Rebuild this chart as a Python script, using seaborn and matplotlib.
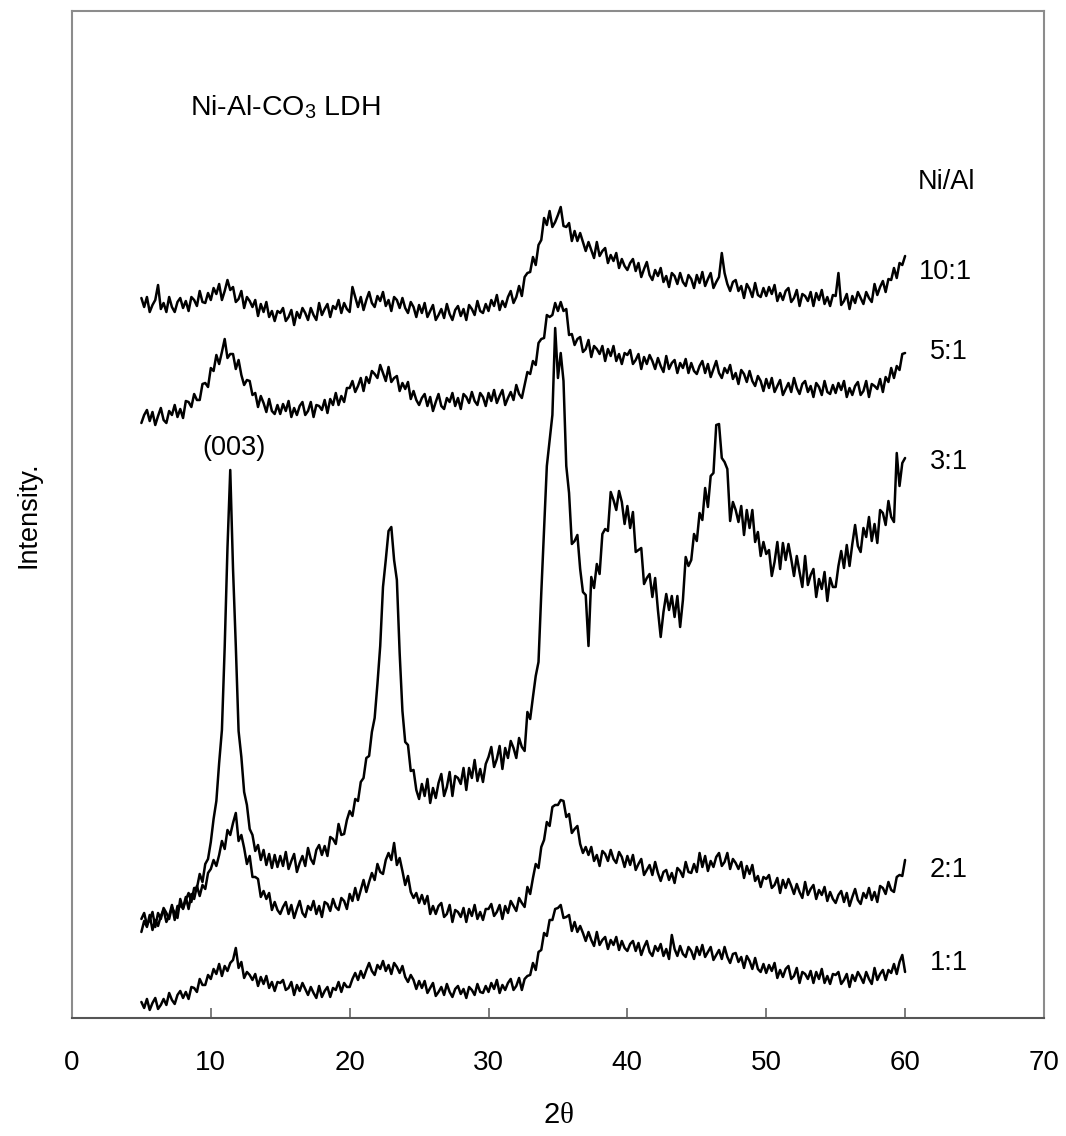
import numpy as np
import pandas as pd
import matplotlib
matplotlib.use("Agg")
from matplotlib import pyplot as plt
import seaborn as sns

# XRD scans of Ni-Al-CO3 LDH, 5-60 deg 2theta, 0.2 deg step (intensity in a.u., stacked)
two_theta = np.linspace(5.0, 60.0, 276)

ratio_1_1 = [
    16, 10, 19, 8, 15, 20, 9, 13, 19, 13, 25, 18, 14, 23, 27, 20, 26, 19, 31, 30, 26, 39, 33, 33, 43,
    39, 49, 44, 54, 42, 52, 47, 55, 58, 70, 50, 56, 40, 46, 43, 38, 44, 32, 41, 34, 42, 30, 36, 27, 36,
    35, 38, 28, 30, 36, 23, 33, 27, 35, 29, 23, 31, 25, 20, 32, 21, 27, 31, 21, 30, 28, 36, 26, 35, 31,
    31, 39, 45, 38, 47, 40, 48, 55, 47, 43, 53, 49, 57, 47, 53, 44, 55, 51, 45, 52, 41, 36, 43, 38, 29,
    37, 30, 37, 25, 30, 35, 22, 26, 31, 23, 34, 26, 21, 29, 32, 24, 29, 20, 31, 28, 23, 34, 26, 25, 32,
    26, 35, 29, 38, 25, 33, 28, 35, 39, 28, 32, 40, 28, 39, 42, 43, 55, 48, 66, 68, 85, 82, 98, 98, 109,
    110, 113, 100, 101, 103, 87, 96, 86, 92, 85, 77, 86, 78, 72, 86, 73, 78, 81, 69, 78, 73, 81, 68, 77, 70,
    67, 74, 77, 67, 75, 63, 71, 77, 66, 62, 72, 67, 74, 62, 69, 59, 83, 69, 62, 72, 64, 61, 71, 67, 59,
    71, 63, 73, 61, 66, 71, 58, 63, 68, 59, 71, 61, 55, 64, 65, 56, 61, 50, 62, 57, 49, 60, 49, 46, 54,
    45, 53, 47, 55, 40, 48, 41, 49, 52, 39, 42, 50, 35, 46, 44, 39, 47, 35, 46, 39, 49, 35, 42, 34, 44,
    43, 46, 34, 38, 44, 31, 43, 37, 46, 41, 35, 46, 39, 34, 50, 38, 44, 48, 38, 48, 45, 54, 44, 56, 63,
    46]

ratio_2_1 = [
    86, 97, 91, 103, 88, 98, 92, 102, 108, 96, 102, 113, 98, 112, 112, 110, 121, 109, 124, 119, 132, 122, 133, 129, 145,
    149, 158, 152, 163, 177, 169, 188, 183, 195, 205, 177, 183, 170, 154, 162, 141, 141, 139, 121, 127, 119, 125, 108, 116, 108,
    104, 111, 116, 104, 113, 100, 109, 117, 105, 101, 112, 108, 117, 104, 112, 101, 116, 114, 107, 119, 111, 108, 120, 117, 109,
    124, 117, 130, 118, 128, 138, 126, 136, 145, 138, 154, 146, 144, 158, 165, 158, 175, 153, 160, 147, 133, 142, 126, 120, 125,
    115, 123, 114, 122, 104, 112, 104, 112, 115, 101, 104, 113, 96, 108, 106, 101, 110, 96, 109, 102, 113, 99, 106, 98, 109,
    109, 114, 102, 106, 113, 99, 112, 105, 117, 112, 107, 120, 115, 111, 131, 124, 140, 154, 150, 171, 178, 196, 192, 211, 213,
    213, 218, 217, 201, 204, 185, 189, 192, 174, 165, 171, 163, 171, 157, 163, 152, 167, 164, 157, 168, 159, 155, 166, 161, 151,
    162, 153, 163, 148, 154, 159, 143, 148, 153, 143, 156, 145, 137, 146, 148, 138, 145, 135, 150, 147, 141, 156, 146, 145, 154,
    146, 165, 151, 162, 147, 157, 151, 161, 165, 152, 156, 165, 149, 159, 155, 149, 156, 140, 152, 144, 153, 137, 142, 131, 141,
    139, 143, 130, 133, 140, 125, 138, 130, 139, 132, 124, 134, 126, 120, 136, 123, 129, 133, 119, 128, 123, 131, 117, 126, 119,
    115, 123, 127, 116, 125, 112, 121, 129, 118, 114, 125, 120, 130, 118, 126, 116, 132, 130, 124, 136, 128, 126, 141, 143, 142,
    158]

ratio_3_1 = [
    99, 105, 93, 98, 106, 91, 105, 99, 110, 105, 99, 111, 105, 100, 119, 109, 118, 125, 116, 130, 130, 144, 136, 154, 159,
    176, 199, 217, 255, 288, 371, 470, 548, 449, 372, 287, 261, 226, 213, 189, 183, 167, 173, 158, 168, 153, 164, 150, 163, 151,
    162, 152, 166, 149, 157, 164, 146, 155, 162, 152, 170, 159, 154, 168, 173, 163, 172, 162, 181, 179, 174, 194, 183, 184, 198,
    207, 202, 219, 217, 236, 240, 260, 262, 286, 300, 334, 372, 431, 458, 487, 491, 458, 438, 365, 307, 276, 273, 247, 248, 228,
    219, 234, 222, 239, 215, 230, 220, 235, 244, 222, 231, 246, 222, 242, 240, 234, 250, 228, 250, 240, 258, 237, 249, 236, 254,
    261, 271, 251, 259, 272, 249, 270, 260, 277, 270, 260, 280, 271, 267, 306, 299, 321, 342, 356, 425, 489, 552, 577, 603, 690,
    640, 665, 637, 552, 525, 474, 477, 483, 449, 426, 423, 372, 441, 430, 454, 444, 484, 489, 487, 526, 518, 508, 527, 516, 494,
    512, 490, 506, 466, 468, 470, 434, 440, 444, 421, 440, 408, 381, 406, 424, 408, 422, 401, 422, 391, 418, 461, 452, 458, 484,
    477, 505, 498, 530, 511, 542, 545, 593, 594, 560, 556, 549, 497, 516, 508, 496, 512, 483, 508, 490, 508, 476, 486, 462, 476,
    464, 468, 442, 456, 476, 449, 475, 458, 474, 459, 442, 462, 446, 431, 462, 433, 443, 449, 421, 439, 429, 446, 417, 440, 431,
    431, 452, 467, 450, 473, 452, 474, 493, 472, 466, 490, 481, 501, 477, 494, 475, 508, 505, 493, 517, 501, 496, 565, 532, 555,
    560]

ratio_5_1 = [
    595, 603, 608, 597, 606, 593, 602, 610, 598, 595, 607, 603, 613, 601, 609, 600, 617, 616, 611, 624, 618, 618, 634, 635, 631,
    650, 647, 663, 654, 666, 679, 660, 664, 664, 649, 658, 643, 633, 638, 637, 623, 625, 611, 622, 615, 606, 619, 607, 604, 613,
    604, 614, 607, 617, 601, 610, 603, 612, 616, 603, 607, 616, 601, 613, 612, 608, 618, 605, 619, 613, 625, 613, 622, 616, 630,
    630, 637, 626, 632, 640, 627, 641, 635, 647, 644, 640, 653, 645, 637, 651, 636, 640, 642, 627, 635, 629, 636, 619, 627, 618,
    613, 620, 624, 612, 621, 607, 616, 624, 612, 609, 620, 616, 625, 612, 620, 609, 624, 621, 615, 626, 617, 613, 625, 621, 612,
    625, 617, 628, 615, 622, 628, 613, 620, 626, 618, 633, 624, 620, 633, 646, 644, 657, 653, 675, 679, 680, 703, 701, 703, 715,
    707, 716, 707, 709, 683, 684, 673, 679, 681, 666, 669, 678, 661, 672, 669, 664, 672, 657, 669, 662, 672, 657, 664, 654, 665,
    663, 668, 654, 658, 664, 649, 661, 654, 663, 657, 649, 660, 652, 646, 662, 649, 655, 658, 645, 655, 650, 659, 645, 655, 647,
    644, 652, 657, 645, 654, 641, 649, 657, 645, 640, 650, 645, 653, 639, 645, 634, 648, 644, 636, 647, 637, 632, 642, 637, 627,
    639, 630, 640, 626, 632, 638, 623, 629, 635, 626, 640, 630, 624, 634, 637, 626, 632, 621, 635, 631, 623, 637, 626, 624, 633,
    625, 635, 628, 637, 621, 630, 623, 632, 636, 623, 627, 637, 621, 634, 632, 629, 639, 626, 641, 636, 650, 640, 652, 648, 664,
    665]

ratio_10_1 = [
    720, 711, 721, 706, 713, 718, 733, 709, 715, 706, 721, 711, 706, 716, 720, 710, 717, 707, 721, 718, 712, 727, 716, 715, 725,
    718, 730, 724, 734, 718, 727, 738, 728, 731, 716, 719, 727, 710, 721, 717, 711, 718, 702, 714, 706, 716, 701, 707, 697, 707,
    705, 710, 697, 701, 708, 693, 706, 700, 710, 705, 698, 710, 703, 698, 715, 703, 709, 714, 701, 712, 709, 718, 705, 715, 709,
    706, 731, 721, 711, 721, 708, 718, 726, 715, 711, 722, 717, 726, 712, 718, 707, 721, 718, 710, 720, 710, 705, 716, 711, 701,
    713, 705, 715, 701, 707, 713, 698, 703, 709, 700, 714, 704, 698, 708, 712, 702, 709, 698, 713, 709, 703, 717, 707, 705, 714,
    707, 718, 712, 723, 708, 717, 711, 721, 727, 715, 721, 732, 722, 741, 745, 746, 761, 753, 773, 778, 800, 793, 807, 791, 796,
    803, 811, 792, 791, 795, 777, 787, 777, 785, 776, 767, 776, 768, 760, 776, 762, 767, 770, 755, 763, 757, 765, 750, 759, 752,
    748, 755, 759, 747, 755, 741, 749, 756, 743, 738, 748, 742, 750, 736, 742, 731, 745, 742, 734, 745, 736, 732, 743, 739, 730,
    743, 735, 746, 732, 739, 745, 730, 736, 741, 765, 745, 734, 727, 736, 738, 727, 732, 720, 734, 729, 721, 735, 723, 721, 730,
    722, 731, 724, 733, 717, 725, 718, 727, 730, 716, 720, 728, 712, 724, 722, 717, 726, 712, 725, 718, 728, 714, 721, 712, 723,
    722, 745, 713, 717, 724, 709, 722, 715, 726, 720, 714, 726, 720, 716, 734, 723, 731, 737, 726, 739, 738, 750, 740, 755, 753,
    762]

ratio_labels = ["1:1", "2:1", "3:1", "5:1", "10:1"]
series = [ratio_1_1, ratio_2_1, ratio_3_1, ratio_5_1, ratio_10_1]
label_y = [55, 148, 556, 666, 746]

frames = []
for lab, vals in zip(ratio_labels, series):
    frames.append(pd.DataFrame({"two_theta": two_theta, "intensity": vals, "ratio": lab}))
xrd = pd.concat(frames, ignore_index=True)

sns.set_theme(style="white")
plt.rcParams["font.family"] = ["Liberation Sans", "DejaVu Sans"]
plt.rcParams["mathtext.fontset"] = "custom"
plt.rcParams["mathtext.rm"] = "Liberation Sans"
plt.rcParams["mathtext.it"] = "Liberation Serif"
plt.rcParams["text.color"] = "black"
plt.rcParams["axes.labelcolor"] = "black"
plt.rcParams["xtick.labelcolor"] = "black"

fig = plt.figure(figsize=(10.66, 11.36), dpi=100)
ax = fig.add_axes([0.0675, 0.1039, 0.9118, 0.8864])

for lab in ratio_labels:
    sub = xrd[xrd["ratio"] == lab]
    sns.lineplot(data=sub, x="two_theta", y="intensity", color="black",
                 linewidth=1.8, estimator=None, sort=False, ax=ax)

ax.set_xlim(0, 70)
ax.set_ylim(0, 1007)
ax.set_xticks(range(0, 71, 10))
ax.set_yticks([])
ax.tick_params(axis="x", direction="in", length=7, width=1.2, color="#666666",
               labelsize=20, labelcolor="black", pad=23, bottom=True)

for side in ["top", "left", "right"]:
    ax.spines[side].set_color("#8c8c8c")
    ax.spines[side].set_linewidth(1.5)
ax.spines["bottom"].set_color("#555555")
ax.spines["bottom"].set_linewidth(1.5)

ax.set_xlabel(r"2$\theta$", fontsize=21, labelpad=18, color="black")
ax.set_ylabel("Intensity.", fontsize=19.5, color="black")
ax.yaxis.set_label_coords(-0.031, 0.5)

ax.text(8.5, 911, r"Ni-Al-CO$_{\mathrm{3}}$ LDH", fontsize=20.5, va="center", ha="left")
ax.text(60.9, 836, "Ni/Al", fontsize=19.5, va="center", ha="left")
for lab, yy in zip(ratio_labels, label_y):
    ax.text(61.0 if lab == "10:1" else 61.8, yy, lab, fontsize=19.5, va="center", ha="left")
ax.text(11.7, 570, "(003)", fontsize=19.5, va="center", ha="center")

fig.savefig("out.png", dpi=100)
